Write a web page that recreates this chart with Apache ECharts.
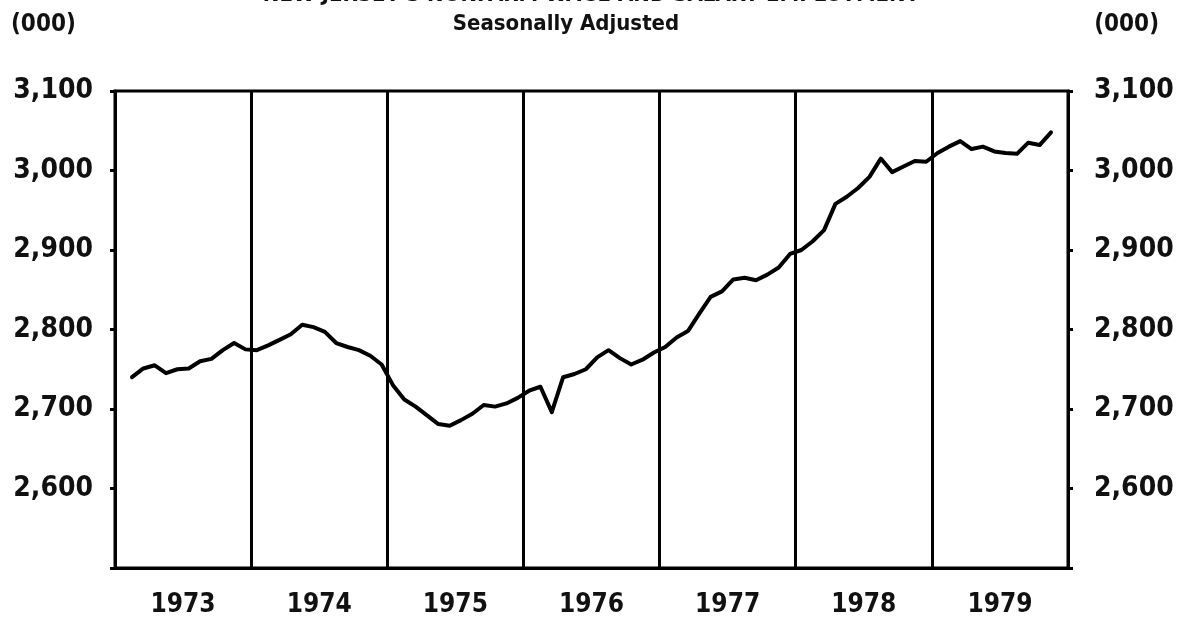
<!DOCTYPE html>
<html>
<head>
<meta charset="utf-8">
<script src="https://cdn.jsdelivr.net/npm/echarts@6/dist/echarts.min.js"></script>
<style>
  html, body { margin: 0; padding: 0; background: #fff; }
  #chart { width: 1182px; height: 621px; }
</style>
</head>
<body>
<div id="chart"></div>
<script>
// ---- data (thousands of employees, monthly, seasonally adjusted) ----
const years = ['1973', '1974', '1975', '1976', '1977', '1978', '1979'];
const yTickValues = [2600, 2700, 2800, 2900, 3000, 3100];
const firstMonthIndex = 1; // series begins Feb 1973 (months counted from Jan 1973)
const v1973 = [2740, 2751, 2755, 2745, 2750, 2751, 2760, 2763, 2774, 2783, 2775];
const v1974 = [2774, 2780, 2787, 2794, 2806, 2803, 2797, 2783, 2778, 2774, 2767, 2756];
const v1975 = [2730, 2712, 2703, 2692, 2681, 2679, 2686, 2694, 2705, 2703, 2707, 2714];
const v1976 = [2723, 2728, 2696, 2740, 2744, 2750, 2765, 2774, 2764, 2756, 2762, 2771];
const v1977 = [2778, 2790, 2798, 2820, 2841, 2848, 2863, 2865, 2862, 2869, 2878, 2895];
const v1978 = [2900, 2911, 2925, 2958, 2967, 2978, 2992, 3015, 2998, 3005, 3012, 3011];
const v1979 = [3022, 3030, 3037, 3027, 3030, 3024, 3022, 3021, 3035, 3032, 3048];

const titleText = "NEW JERSEY'S NONFARM WAGE AND SALARY EMPLOYMENT";
const subtitleText = 'Seasonally Adjusted';
const unitText = '(000)';

const allValues = [].concat(v1973, v1974, v1975, v1976, v1977, v1978, v1979);
const seriesData = allValues.map((v, i) => [firstMonthIndex + i + 0.5, v]);

const FONT = "'DejaVu Sans Condensed', 'Liberation Sans Narrow', 'DejaVu Sans', sans-serif";
const fmt = v => yTickValues.indexOf(v) >= 0 ? v.toLocaleString('en-US') : '';

const chart = echarts.init(document.getElementById('chart'), null, { renderer: 'canvas' });
const yAxisCommon = {
  type: 'value', min: 2500, max: 3100, interval: 100,
  axisLine: { show: true, lineStyle: { color: '#000', width: 3 } },
  axisTick: { show: true, length: 5, lineStyle: { color: '#000', width: 3 } },
  splitLine: { show: false },
  axisLabel: { color: '#111', fontFamily: FONT, fontWeight: 'bold', fontSize: 28, margin: 22, formatter: fmt }
};
chart.setOption({
  animation: false,
  backgroundColor: '#fff',
  title: [
    { text: titleText, left: 'center', top: -21, textStyle: { fontFamily: FONT, fontWeight: 'bold', fontSize: 22, color: '#111' } },
    { text: subtitleText, left: 561, textAlign: 'center', top: 8, textStyle: { fontFamily: FONT, fontWeight: 'bold', fontSize: 22, color: '#111' } },
    { text: unitText, left: 6, top: 8, textStyle: { fontFamily: FONT, fontWeight: 'bold', fontSize: 24, color: '#111' } },
    { text: unitText, right: 18, top: 8, textStyle: { fontFamily: FONT, fontWeight: 'bold', fontSize: 24, color: '#111' } }
  ],
  grid: { left: 115, right: 114, top: 91, bottom: 53, show: true, borderColor: '#000', borderWidth: 3, backgroundColor: 'transparent' },
  xAxis: [
    {
      type: 'value', min: 0, max: 84, interval: 12,
      axisLine: { show: true, lineStyle: { color: '#000', width: 3 } },
      axisTick: { show: false },
      axisLabel: { show: false },
      splitLine: { show: true, lineStyle: { color: '#000', width: 3, type: 'solid' } }
    },
    {
      type: 'category', data: years, boundaryGap: true, position: 'bottom',
      axisLine: { show: false }, axisTick: { show: false }, splitLine: { show: false },
      axisLabel: { color: '#111', fontFamily: FONT, fontWeight: 'bold', fontSize: 26, margin: 24 }
    }
  ],
  yAxis: [
    Object.assign({}, yAxisCommon, { position: 'left' }),
    Object.assign({}, yAxisCommon, { position: 'right', axisLabel: Object.assign({}, yAxisCommon.axisLabel, { margin: 26 }) })
  ],
  series: [{
    type: 'line', xAxisIndex: 0, yAxisIndex: 0, data: seriesData,
    showSymbol: false, smooth: false,
    lineStyle: { color: '#000', width: 4, join: 'round', cap: 'round' }
  }]
});
</script>
</body>
</html>
